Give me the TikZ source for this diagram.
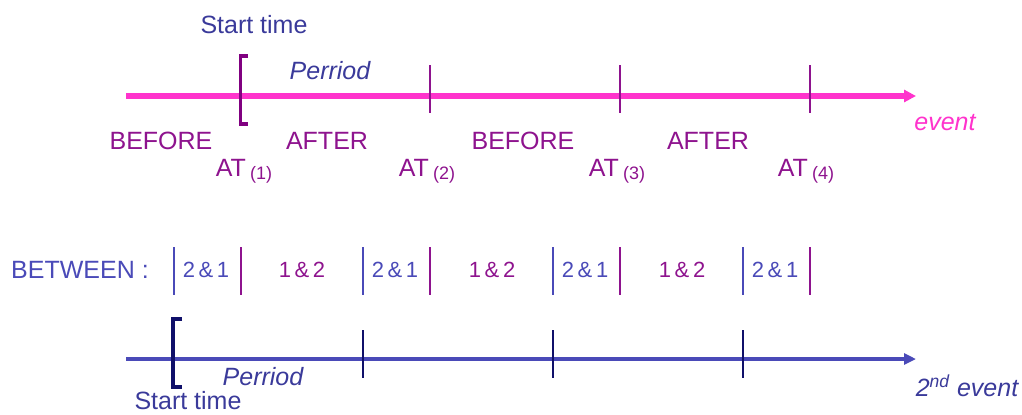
\documentclass[tikz,border=0pt]{standalone}
\usepackage{fontspec}
\setmainfont{Liberation Sans}
\usetikzlibrary{arrows.meta,positioning}
\definecolor{evpink}{HTML}{FF33CC}
\definecolor{evpurple}{HTML}{8E138E}
\definecolor{evbrack}{HTML}{800080}
\definecolor{evblue}{HTML}{4A4AB8}
\definecolor{evnavy}{HTML}{10106A}
\definecolor{evslate}{HTML}{3A3A9A}
\tikzset{
    lbl/.style={inner sep=0pt, font=\fontsize{12.5}{14}\selectfont},
    pairlbl/.style={inner sep=0pt, font=\fontsize{11}{13}\selectfont},
    tick/.style={line width=0.6pt},
    brack/.style={line width=1.6pt},
}
\newcommand{\atidx}[1]{AT\,\raisebox{-1.5pt}{\fontsize{9}{10}\selectfont(#1)}}

\begin{document}
\begin{tikzpicture}[x=0.5pt, y=-0.5pt]
    \useasboundingbox (0,0) rectangle (1022,414);

    % first event
    \begin{scope}
        \coordinate (top0) at (126,96);
        \coordinate (top1) at (916,96);
        \draw[evpink, line width=2.6pt, -{Triangle[length=6pt,width=6pt]}] (top0) -- (top1);
        \draw[evbrack, brack] (248,56) -- (240.5,56) -- (240.5,124) -- (248,124);
        \foreach \x in {430,620,810}
            \draw[evpurple, tick] (\x,65) -- (\x,113);
        \node[lbl, evslate] (start1) at (254,25) {Start time};
        \node[lbl, evslate, font=\fontsize{12.5}{14}\selectfont\itshape] (period1) at (330,71) {Perriod};
        \node[lbl, evpink, font=\fontsize{12.5}{14}\selectfont\itshape] (event1) at (945,123) {event};
        \node[lbl, evpurple] (before1) at (161,141) {BEFORE};
        \node[lbl, evpurple] (after1) at (327,141) {AFTER};
        \node[lbl, evpurple] (before2) at (523,141) {BEFORE};
        \node[lbl, evpurple] (after2) at (708,141) {AFTER};
        \node[lbl, evpurple] (at1) at (244,171) {\atidx{1}};
        \node[lbl, evpurple] (at2) at (427,171) {\atidx{2}};
        \node[lbl, evpurple] (at3) at (617,171) {\atidx{3}};
        \node[lbl, evpurple] (at4) at (806,171) {\atidx{4}};
    \end{scope}

    % overlaps
    \begin{scope}
        \node[lbl, evblue] (between) at (80,270) {BETWEEN :};
        \foreach \x in {174,363,553,743}
            \draw[evblue, tick] (\x,247) -- (\x,295);
        \foreach \x in {241,430,620,810}
            \draw[evpurple, tick] (\x,247) -- (\x,295);
        \foreach \x [count=\i] in {206,395,585,775}
            \node[pairlbl, evblue] (ba\i) at (\x,270) {2\,\&\,1};
        \foreach \x [count=\i] in {302,492,682}
            \node[pairlbl, evpurple] (ab\i) at (\x,270) {1\,\&\,2};
    \end{scope}

    % second event
    \begin{scope}
        \coordinate (bot0) at (126,359);
        \coordinate (bot1) at (916,359);
        \draw[evblue, line width=1.9pt, -{Triangle[length=6pt,width=5.5pt]}] (bot0) -- (bot1);
        \draw[evnavy, brack] (182,319) -- (173,319) -- (173,387) -- (182,387);
        \foreach \x in {363,553,743}
            \draw[evnavy, tick] (\x,330) -- (\x,378);
        \node[lbl, evslate, font=\fontsize{12.5}{14}\selectfont\itshape] (period2) at (263,377) {Perriod};
        \node[lbl, evslate] (start2) at (188,401) {Start time};
        \node[lbl, evslate, font=\fontsize{12.5}{14}\selectfont\itshape] (event2) at (967,386) {2\textsuperscript{nd} event};
    \end{scope}
\end{tikzpicture}
\end{document}
